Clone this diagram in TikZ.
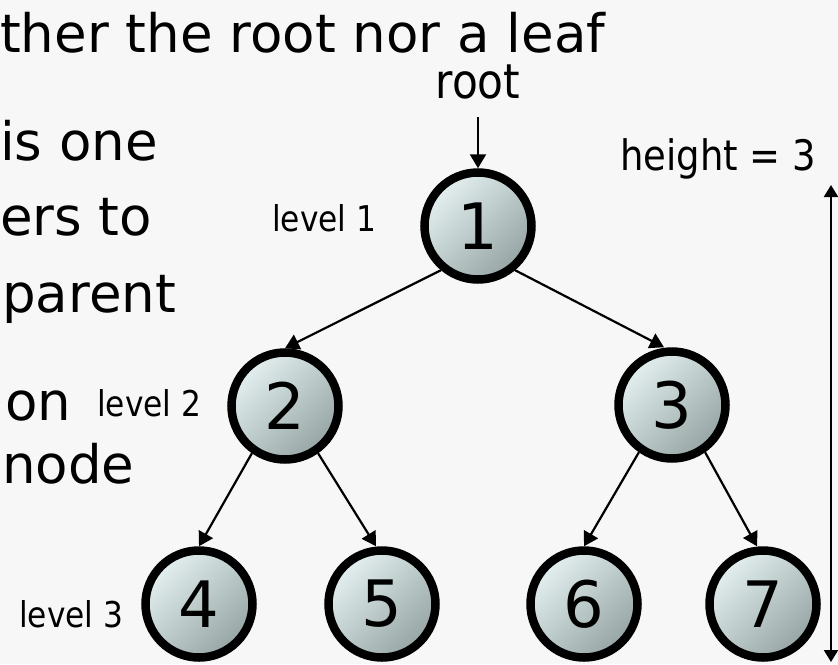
\documentclass[tikz,border=0pt]{standalone}
\usepackage{fontspec}
\setmainfont{DejaVu Sans}
\newfontfamily\tah[FakeStretch=0.88]{DejaVu Sans}
\usetikzlibrary{arrows.meta}
\definecolor{bg}{RGB}{247,247,247}
\definecolor{nlight}{RGB}{228,240,240}
\definecolor{ndark}{RGB}{150,164,164}
\tikzset{
  treenode/.style={circle, draw=black, line width=8.5pt, minimum size=107pt, inner sep=0pt,
    top color=nlight, bottom color=ndark, shading angle=45,
    font=\fontsize{64}{64}\selectfont},
  slidetext/.style={anchor=base west, inner sep=0pt, font=\fontsize{53}{53}\selectfont},
  lbl/.style={anchor=base west, inner sep=0pt, font=\tah\fontsize{35.5}{36}\selectfont},
  biglbl/.style={inner sep=0pt, font=\tah\fontsize{42}{42}\selectfont},
  arr/.style={line width=2.2pt, -{Triangle[length=14pt,width=16pt]}},
  dblarr/.style={line width=2.2pt, {Triangle[length=12pt,width=14pt]}-{Triangle[length=12pt,width=14pt]}}
}
\begin{document}
\begin{tikzpicture}[x=1pt, y=-1pt]
\fill[bg] (0,0) rectangle (838,664);
\useasboundingbox (0,0) rectangle (838,664);

% slide text (cropped)
\node[slidetext] (t1) at (0,52) {ther the root nor a leaf};
\node[slidetext] (t2) at (0,160) {is one};
\node[slidetext] (t3) at (0,235) {ers to};
\node[slidetext] (t4) at (2,312) {parent};
\node[slidetext] (t5) at (5,420) {on};
\node[slidetext] (t6) at (2,483) {node};

% tree nodes
\node[treenode] (n1) at (478,226) {1};
\node[treenode] (n2) at (285,406) {2};
\node[treenode] (n3) at (672,405) {3};
\node[treenode] (n4) at (199,604) {4};
\node[treenode] (n5) at (382,604) {5};
\node[treenode] (n6) at (584,604) {6};
\node[treenode] (n7) at (763,604) {7};

% labels
\node[biglbl, anchor=base, font=\tah\fontsize{48}{48}\selectfont] (root) at (478,98) {root};
\node[biglbl, anchor=base west] (height) at (620,170) {height = 3};
\node[lbl] (l1) at (272,231) {level 1};
\node[lbl] (l2) at (97,416) {level 2};
\node[lbl] (l3) at (19,627) {level 3};

% connectors
\coordinate (rs) at (478,117);
\draw[arr] (rs) -- (n1.north);
\draw[arr] (n1.230) -- (n2.north);
\draw[arr] (n1.310) -- ([xshift=-8pt]n3.north);
\draw[arr] (n2.235) -- (n4.north);
\draw[arr] (n2.305) -- ([xshift=-6pt]n5.north);
\draw[arr] (n3.235) -- (n6.north);
\draw[arr] (n3.305) -- ([xshift=-6pt]n7.north);

\coordinate (ht) at (831,185);
\coordinate (hb) at (831,662);
\draw[dblarr] (ht) -- (hb);
\end{tikzpicture}
\end{document}
